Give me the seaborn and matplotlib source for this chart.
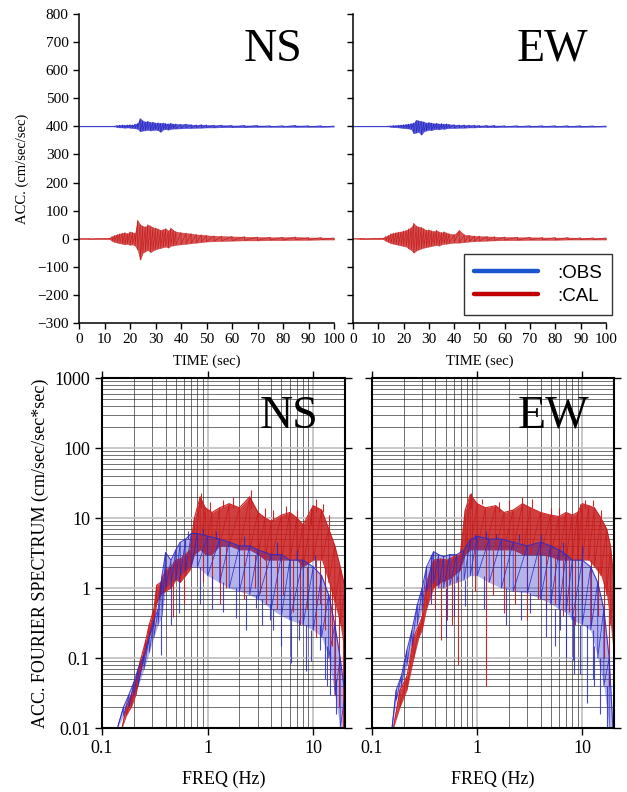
import matplotlib
matplotlib.use("Agg")
import matplotlib.pyplot as plt
import matplotlib.ticker as mticker
from matplotlib.lines import Line2D
import pandas as pd
import seaborn as sns

OBS_COLOR = '#2828c8'
CAL_COLOR = '#c81e1e'
OBS_SHIFT = 400

# ---- acceleration time histories (envelope, cm/sec/sec) ----
time_knots = [0, 3, 4, 12, 13, 14, 15, 16, 17, 18, 19, 20, 21, 22, 23, 24, 25, 26, 27, 28, 29, 30,
              31, 32, 33, 34, 35, 36, 37, 38, 40, 42, 44, 46, 48, 50, 53, 56, 60, 65, 70, 75, 80,
              85, 90, 95, 100]

ns_obs_up = [0, 0, 0, 0, 0, 0.5, 3, 4, 5, 4, 5, 6, 5, 8, 10, 28, 20, 16, 18, 14, 15, 12, 13, 11, 12,
             10, 9, 11, 8, 9, 7, 8, 6, 5, 6, 5, 4, 4, 3, 3, 3, 2, 2, 3, 2, 2, 1]
ns_obs_lo = [0, 0, 0, 0, 0, -0.5, -3, -4, -4, -5, -4, -5, -6, -7, -9, -18, -15, -14, -12, -15, -13,
             -12, -14, -20, -11, -10, -12, -9, -8, -8, -7, -6, -6, -5, -5, -4, -4, -3, -3, -3, -2,
             -2, -2, -2, -2, -2, -1]
ns_cal_up = [0, 0, 1, 1.5, 8, 12, 15, 18, 20, 22, 18, 25, 22, 20, 65, 50, 45, 42, 50, 45, 40, 38, 35,
             30, 33, 36, 28, 38, 30, 25, 22, 20, 18, 15, 14, 12, 10, 9, 8, 7, 6, 5, 5, 6, 4, 4, 3]
ns_cal_lo = [0, 0, -1, -1.5, -8, -12, -14, -16, -18, -20, -18, -22, -20, -25, -40, -75, -50, -45, -40,
             -48, -42, -38, -35, -33, -30, -28, -32, -25, -24, -22, -20, -18, -16, -14, -12, -10, -9,
             -8, -7, -6, -6, -5, -5, -4, -4, -3, -3]
ew_obs_up = [0, 0, 0, 0, 0, 0.5, 2, 3, 3, 4, 5, 6, 7, 8, 10, 12, 22, 20, 18, 16, 12, 14, 12, 10, 11,
             9, 10, 8, 9, 7, 6, 5, 5, 4, 4, 3, 3, 3, 2, 2, 2, 2, 2, 2, 2, 1.5, 1]
ew_obs_lo = [0, 0, 0, 0, 0, -0.5, -2, -3, -3, -4, -5, -6, -7, -8, -10, -25, -22, -20, -30, -18, -15,
             -12, -14, -10, -9, -11, -8, -9, -7, -6, -6, -5, -5, -4, -4, -3, -3, -3, -2, -2, -2, -2,
             -2, -2, -2, -1.5, -1]
ew_cal_up = [0, 1, 1.5, 2, 8, 12, 18, 20, 22, 24, 25, 28, 30, 35, 40, 55, 45, 42, 40, 35, 30, 32, 28,
             26, 30, 24, 22, 25, 20, 18, 15, 30, 14, 12, 10, 9, 8, 7, 6, 5, 5, 4, 4, 4, 3, 3, 3]
ew_cal_lo = [0, -1, -1.5, -2, -8, -12, -16, -18, -20, -22, -24, -26, -28, -35, -40, -50, -42, -38, -35,
             -32, -30, -28, -26, -24, -22, -25, -20, -18, -18, -16, -14, -14, -12, -10, -9, -8, -7,
             -6, -5, -5, -4, -4, -4, -3, -3, -3, -3]

# ---- Fourier spectra (band, cm/sec/sec*sec) ----
fs_ns_cal_f = [0.155, 0.17, 0.19, 0.21, 0.23, 0.26, 0.28, 0.31, 0.33, 0.36, 0.40, 0.45, 0.50, 0.55,
               0.62, 0.68, 0.75, 0.85, 0.95, 1.1, 1.3, 1.6, 2.0, 2.5, 3.0, 3.5, 4.0, 5.0, 6.0, 7.0,
               8.0, 10, 12, 14, 16, 18, 20]
fs_ns_cal_up = [0.01, 0.02, 0.03, 0.05, 0.09, 0.18, 0.3, 0.5, 1.1, 1.2, 1.8, 2.0, 2.5, 2.6, 3.0, 3.5,
                10, 20, 14, 12, 14, 16, 14, 20, 12, 10, 9, 11, 12, 10, 8, 15, 13, 7, 4, 2, 1]
fs_ns_cal_lo = [0.01, 0.015, 0.02, 0.03, 0.06, 0.12, 0.2, 0.3, 0.6, 0.8, 0.9, 1.0, 1.3, 1.2, 1.5, 1.8,
                3, 3.5, 3, 3, 4, 4, 3.5, 3.5, 3, 2.5, 2.5, 2.5, 2.5, 2.5, 2, 2.5, 2.5, 1.2, 0.6, 0.3, 0.1]
# single spikes: frequency, start value, end value
fs_ns_cal_spk_f = [0.47, 0.6, 1.3, 3.1, 4.5, 7.5, 10.7, 13, 14.3, 16, 17.5, 19, 0.87, 2.6, 10.6, 1.75,
                   5.5, 12.5, 0.9, 1.1, 1.5, 2.2, 2.8, 3.6, 5.2, 6.5, 8.8, 11.5, 15, 1.05, 1.4, 3.5,
                   4.2, 7, 9.5, 14]
fs_ns_cal_spk_a = [1.2, 1.3, 4, 3, 2.5, 2.5, 2.5, 2, 1.2, 0.6, 0.4, 0.2, 14, 14, 12, 14, 10, 12, 3, 3,
                   4, 3.5, 3, 2.5, 2.5, 2.5, 2, 2.5, 1, 12, 14, 10, 9, 10, 8, 7]
fs_ns_cal_spk_b = [0.39, 0.6, 0.6, 0.85, 0.5, 0.3, 0.2, 0.25, 0.05, 0.03, 0.02, 0.01, 23, 25, 19, 20,
                   15, 16, 1.2, 0.9, 1.0, 0.7, 1.0, 0.6, 0.8, 0.45, 0.5, 0.6, 0.15, 17, 18, 14, 13,
                   13, 14, 11]

fs_ns_obs_f = [0.14, 0.16, 0.18, 0.20, 0.22, 0.25, 0.28, 0.31, 0.34, 0.37, 0.40, 0.45, 0.50, 0.55,
               0.62, 0.70, 0.80, 1.0, 1.3, 1.6, 2.0, 2.5, 3.0, 4.0, 5.0, 6.0, 8.0, 10, 12, 14, 16, 18, 20]
fs_ns_obs_up = [0.01, 0.02, 0.03, 0.045, 0.07, 0.11, 0.2, 0.35, 0.5, 1.5, 3.2, 2.5, 3.5, 4.5, 5, 6, 6,
                5.5, 5, 4.5, 4, 4, 3.5, 3, 3, 2.5, 2.5, 2, 1.5, 0.8, 0.3, 0.1, 0.03]
fs_ns_obs_lo = [0.01, 0.015, 0.02, 0.03, 0.04, 0.07, 0.12, 0.2, 0.3, 0.4, 1.0, 1.2, 1.3, 1.5, 1.8, 2,
                2, 1.5, 1.2, 1, 0.9, 0.8, 0.7, 0.5, 0.4, 0.35, 0.3, 0.25, 0.2, 0.1, 0.03, 0.01, 0.005]
fs_ns_obs_spk_f = [0.36, 0.54, 1.87, 2.9, 3.9, 4.2, 6.2, 7.4, 8.6, 11.5, 14.3, 16.5, 0.65, 1.2, 0.45,
                   0.85, 1.1, 1.4, 2.3, 3.3, 5, 9.5, 12.8, 13.5, 0.9, 2.2, 4.5, 7, 10.5]
fs_ns_obs_spk_a = [0.4, 1.5, 1, 0.8, 0.6, 0.5, 0.4, 0.35, 0.3, 0.3, 0.15, 0.05, 5, 5, 1.2, 2, 1.5,
                   1.2, 0.8, 0.7, 0.4, 0.25, 0.2, 0.15, 6, 4, 3, 2.5, 2]
fs_ns_obs_spk_b = [0.11, 0.44, 0.37, 0.52, 0.35, 0.25, 0.085, 0.18, 0.065, 0.13, 0.03, 0.016, 6.5,
                   6.5, 0.3, 0.6, 0.5, 0.45, 0.25, 0.3, 0.15, 0.09, 0.05, 0.04, 7, 5.5, 4.5, 3.5, 3]

fs_ew_cal_f = [0.16, 0.185, 0.215, 0.25, 0.28, 0.30, 0.33, 0.385, 0.45, 0.52, 0.60, 0.69, 0.77, 0.86,
               1.0, 1.2, 1.5, 1.8, 2.2, 2.7, 3.2, 4.0, 5.0, 6.0, 7.0, 8.0, 9.0, 10, 11.5, 13, 15, 17,
               18.5, 20]
fs_ew_cal_up = [0.01, 0.035, 0.055, 0.2, 0.3, 0.39, 1.18, 2.5, 2.6, 2.5, 2.8, 3.0, 13, 21.5, 16, 14,
                15, 12, 13, 16, 14, 12, 11, 10.5, 12, 11, 12, 16, 15, 14, 10, 7, 4, 1.2]
fs_ew_cal_lo = [0.01, 0.02, 0.035, 0.1, 0.2, 0.25, 0.5, 1.0, 1.2, 1.3, 1.5, 1.8, 3, 3.5, 3.5, 3.5, 3.5,
                3.5, 3.5, 3, 3, 3, 2.8, 2.5, 2.5, 2.5, 2.5, 2.5, 2.5, 2, 1.5, 0.8, 0.3, 0.1]
fs_ew_cal_spk_f = [0.45, 0.52, 0.65, 1.22, 1.78, 2.96, 4.5, 6.5, 8.5, 12, 16, 18, 0.88, 2.65, 10.6,
                   1.6, 5, 0.4, 0.58, 0.95, 1.4, 2.3, 3.8, 5.5, 7.5, 10, 14, 1.1, 2, 3.3, 6, 9.5,
                   12.5, 15]
fs_ew_cal_spk_a = [1.2, 1.3, 1.5, 3.5, 3.5, 3, 3, 2.5, 2.5, 2.5, 1.2, 0.5, 14, 13, 14, 12, 10, 2.5,
                   1.5, 3.5, 3.5, 3.5, 3, 2.8, 2.5, 2.5, 2, 16, 13, 14, 10.5, 12, 15, 10]
fs_ew_cal_spk_b = [0.18, 0.35, 0.08, 0.04, 0.44, 0.35, 0.5, 0.4, 0.3, 0.3, 0.1, 0.04, 22.7, 20, 18,
                   17, 14, 0.5, 0.3, 0.9, 0.8, 0.6, 0.7, 0.6, 0.45, 0.6, 0.4, 19, 18, 19, 14, 16,
                   18, 13]

fs_ew_obs_f = [0.155, 0.17, 0.19, 0.215, 0.24, 0.27, 0.30, 0.33, 0.385, 0.43, 0.48, 0.55, 0.64, 0.75,
               0.86, 1.0, 1.3, 1.7, 2.2, 3.0, 4.0, 5.0, 6.0, 7.0, 8.0, 10, 12, 14, 16, 18, 19.5]
fs_ew_obs_up = [0.01, 0.035, 0.055, 0.13, 0.25, 0.58, 1.0, 2.0, 3.3, 3.0, 2.8, 3.0, 3.0, 3.5, 4.9, 5.5,
                5, 5, 4.5, 4, 4.5, 4, 3.5, 3, 2.5, 2.5, 2, 1.2, 0.5, 0.1, 0.01]
fs_ew_obs_lo = [0.01, 0.025, 0.04, 0.08, 0.15, 0.3, 0.5, 0.9, 1.2, 1.0, 1.0, 1.1, 1.2, 1.3, 1.5, 1.5,
                1.2, 1, 0.9, 0.85, 0.7, 0.6, 0.5, 0.45, 0.35, 0.3, 0.25, 0.1, 0.04, 0.01, 0.005]
fs_ew_obs_spk_f = [0.5, 0.77, 3.2, 6.1, 8.2, 8.3, 11, 14.7, 12.5, 0.95, 1.5, 0.36, 0.6, 1.15, 1.9,
                   2.6, 4.5, 5.5, 7, 9.5, 13, 17, 1.2, 2.5, 4, 6.5, 10]
fs_ew_obs_spk_a = [1.0, 1.3, 0.85, 0.5, 0.4, 0.4, 0.3, 0.1, 0.25, 5, 5, 3, 1.1, 1.5, 1, 0.9, 0.65,
                   0.5, 0.45, 0.3, 0.15, 0.04, 5, 4.5, 4.5, 3, 2.5]
fs_ew_obs_spk_b = [0.2, 0.55, 0.44, 0.25, 0.095, 0.06, 0.023, 0.016, 0.05, 6, 6, 0.6, 0.4, 0.5, 0.3,
                   0.35, 0.2, 0.15, 0.1, 0.06, 0.04, 0.01, 6.5, 6, 6, 4.5, 4]

acc_ticks = list(range(-300, 801, 100))
time_ticks = list(range(0, 101, 10))
freq_ticks = [0.1, 1, 10]
freq_labels = ['0.1', '1', '10']
spec_ticks = [0.01, 0.1, 1, 10, 100, 1000]
spec_labels = ['0.01', '0.1', '1', '10', '100', '1000']

sns.set_theme(style='ticks')
plt.rcParams['font.family'] = ['Liberation Serif', 'DejaVu Serif']
plt.rcParams['axes.linewidth'] = 1.1
for key in ['text.color', 'axes.labelcolor', 'xtick.color', 'ytick.color', 'axes.edgecolor']:
    plt.rcParams[key] = 'black'


def zigzag(x, up, lo):
    xs, ys = [], []
    for xi, u, l in zip(x, up, lo):
        xs += [xi, xi]
        ys += [u, l]
    return pd.DataFrame({'x': xs, 'y': ys})


def draw_wave(ax, up, lo, color, shift):
    upper = [v + shift for v in up]
    lower = [v + shift for v in lo]
    ax.fill_between(time_knots, lower, upper, color=color, lw=0.4, alpha=0.75)
    sns.lineplot(data=zigzag(time_knots, upper, lower), x='x', y='y', sort=False, estimator=None,
                 color=color, lw=0.5, ax=ax)


def draw_spec(ax, f, up, lo, sf, sa, sb, color, fill_alpha, line_alpha):
    ax.fill_between(f, lo, up, color=color, lw=0, alpha=fill_alpha)
    sns.lineplot(data=zigzag(f, up, lo), x='x', y='y', sort=False, estimator=None,
                 color=color, lw=0.6, alpha=line_alpha, ax=ax)
    sns.lineplot(x=f, y=up, color=color, lw=0.8, alpha=line_alpha, ax=ax, estimator=None)
    ax.vlines(sf, sb, sa, color=color, lw=0.8, alpha=line_alpha)


fig = plt.figure(figsize=(6.27, 7.92), dpi=100)
ax_ns = fig.add_axes([0.126, 0.5922, 0.4067, 0.3902])
ax_ew = fig.add_axes([0.563, 0.5922, 0.4035, 0.3902])
sp_ns = fig.add_axes([0.1627, 0.0808, 0.3876, 0.4419])
sp_ew = fig.add_axes([0.5933, 0.0808, 0.386, 0.4419])

for ax, obs_up, obs_lo, cal_up, cal_lo, name in [
        (ax_ns, ns_obs_up, ns_obs_lo, ns_cal_up, ns_cal_lo, 'NS'),
        (ax_ew, ew_obs_up, ew_obs_lo, ew_cal_up, ew_cal_lo, 'EW')]:
    draw_wave(ax, obs_up, obs_lo, OBS_COLOR, OBS_SHIFT)
    draw_wave(ax, cal_up, cal_lo, CAL_COLOR, 0)
    ax.set_xlim(0, 100)
    ax.set_ylim(-300, 800)
    ax.set_xticks(time_ticks)
    ax.set_yticks(acc_ticks)
    ax.set_xlabel('TIME (sec)', fontsize=10.5, labelpad=6)
    ax.set_ylabel('')
    ax.spines['top'].set_visible(False)
    ax.spines['right'].set_visible(False)
    ax.tick_params(direction='out', length=4, width=1, labelsize=11, colors='black')
    ax.text(0.76 if name == 'NS' else 0.79, 0.885, name, transform=ax.transAxes,
            fontsize=33, ha='center', va='center', color='black')

ax_ns.set_ylabel('ACC. (cm/sec/sec)', fontsize=10.5, labelpad=6)
ax_ew.set_yticklabels([])

handles = [Line2D([], [], color='#1a55d0', lw=3.2), Line2D([], [], color='#c00000', lw=3.2)]
leg = ax_ew.legend(handles, [':OBS', ':CAL'], loc='lower right', bbox_to_anchor=(1.024, 0.026),
                   prop={'family': 'Liberation Sans', 'size': 13.5}, frameon=True, fancybox=False,
                   edgecolor='black', handlelength=3.4, borderpad=0.55, labelspacing=0.3,
                   handletextpad=1.0, borderaxespad=0)
leg.get_frame().set_linewidth(1.0)

spec_sets = [
    (sp_ns, 'NS', 0.77,
     (fs_ns_cal_f, fs_ns_cal_up, fs_ns_cal_lo, fs_ns_cal_spk_f, fs_ns_cal_spk_a, fs_ns_cal_spk_b),
     (fs_ns_obs_f, fs_ns_obs_up, fs_ns_obs_lo, fs_ns_obs_spk_f, fs_ns_obs_spk_a, fs_ns_obs_spk_b)),
    (sp_ew, 'EW', 0.75,
     (fs_ew_cal_f, fs_ew_cal_up, fs_ew_cal_lo, fs_ew_cal_spk_f, fs_ew_cal_spk_a, fs_ew_cal_spk_b),
     (fs_ew_obs_f, fs_ew_obs_up, fs_ew_obs_lo, fs_ew_obs_spk_f, fs_ew_obs_spk_a, fs_ew_obs_spk_b)),
]

for ax, name, xpos, cal, obs in spec_sets:
    ax.set_xscale('log')
    ax.set_yscale('log')
    draw_spec(ax, *cal, CAL_COLOR, 0.85, 0.95)
    draw_spec(ax, *obs, OBS_COLOR, 0.35, 0.85)
    ax.set_xlim(0.1, 20)
    ax.set_ylim(0.01, 1000)
    ax.xaxis.set_major_locator(mticker.FixedLocator(freq_ticks))
    ax.yaxis.set_major_locator(mticker.FixedLocator(spec_ticks))
    ax.xaxis.set_minor_locator(mticker.LogLocator(base=10, subs=range(2, 10), numticks=20))
    ax.yaxis.set_minor_locator(mticker.LogLocator(base=10, subs=range(2, 10), numticks=20))
    ax.xaxis.set_minor_formatter(mticker.NullFormatter())
    ax.yaxis.set_minor_formatter(mticker.NullFormatter())
    ax.grid(which='major', color='#c4c4c4', lw=1.3, zorder=0)
    ax.grid(which='minor', color='#222222', lw=0.45, zorder=0)
    ax.set_axisbelow(True)
    ax.tick_params(which='major', direction='out', length=5, width=1, labelsize=13,
                   top=True, right=True, colors='black')
    ax.tick_params(which='minor', length=0)
    for s in ax.spines.values():
        s.set_linewidth(1.5)
        s.set_color('black')
    ax.set_xlabel('FREQ (Hz)', fontsize=13, labelpad=10)
    ax.set_ylabel('')
    ax.text(xpos, 0.89, name, transform=ax.transAxes, fontsize=33, ha='center', va='center',
            color='black')

sp_ns.set_xticklabels(freq_labels)
sp_ns.set_yticklabels(spec_labels)
sp_ew.set_xticklabels(freq_labels)
sp_ew.set_yticklabels([])
sp_ns.set_ylabel('ACC. FOURIER SPECTRUM (cm/sec/sec*sec)', fontsize=13, labelpad=4)

fig.savefig('out.png', dpi=100)
